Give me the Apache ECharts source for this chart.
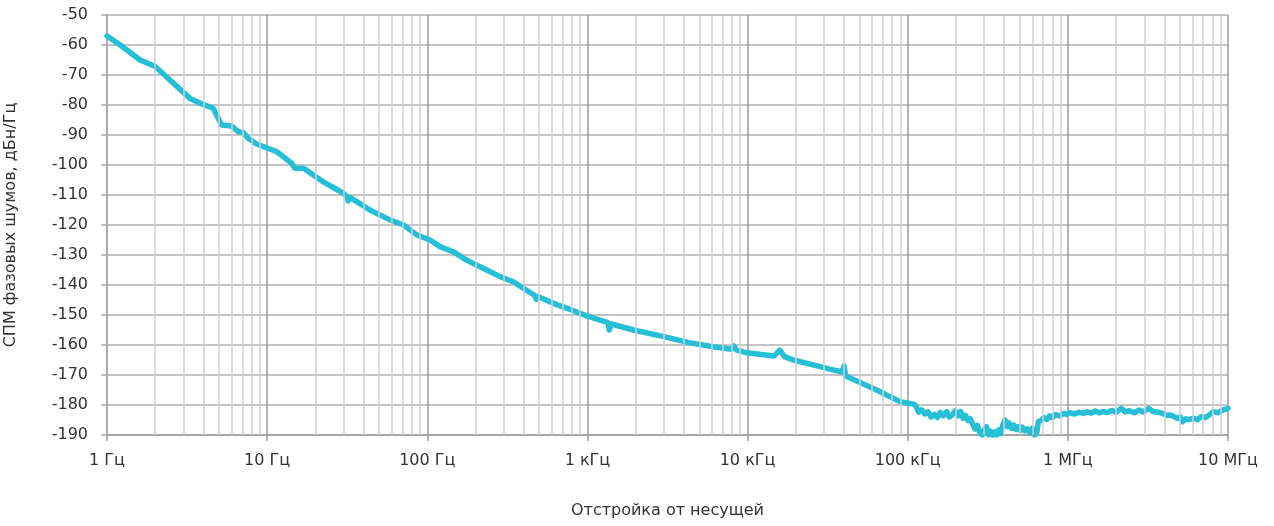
<!DOCTYPE html>
<html>
<head>
<meta charset="utf-8">
<script src="https://cdn.jsdelivr.net/npm/echarts@6/dist/echarts.min.js"></script>
<style>
html,body{margin:0;padding:0;background:#fff;}
#chart{width:1274px;height:526px;}
</style>
</head>
<body>
<div id="chart"></div>
<script>
// Offset frequencies (Hz) and phase-noise PSD (dBc/Hz)
const freqHz = [
  1, 1.21, 1.61, 2.0, 2.47, 3.3, 3.98, 4.6, 5.2, 6.0, 6.6, 7.1, 7.6, 8.6,
  10.1, 11.5, 12.6, 14.2, 14.9, 16.9, 19.4, 22.4, 25.9, 29.9, 31.5, 32, 32.8, 36.3,
  43.8, 58.4, 71, 86, 104, 120, 145, 176, 235, 285, 344, 398, 470, 480, 495, 613, 748,
  899, 991, 1200, 1340, 1370, 1410, 1450, 1940, 3000, 4300, 6100, 7900, 8200, 8500,
  9900, 14600, 15900, 17000, 19300, 26000, 34200, 39000, 40000, 41000, 52000, 67000, 77000, 90000,
  109000, 113000, 117000, 122000, 128000, 134000, 140000, 147000, 153000, 160000,
  167000, 175000, 182000, 190000, 198000, 206000, 214000, 222000, 230000, 238000,
  246000, 255000, 263000, 272000, 282000, 292000, 300000, 310000, 320000, 330000,
  340000, 350000, 360000, 370000, 380000, 392000, 405000, 418000, 430000, 445000,
  460000, 475000, 490000, 505000, 520000, 540000, 560000, 580000, 600000, 620000,
  640000, 655000, 680000, 710000, 740000, 770000, 800000, 840000, 890000, 940000,
  982000, 1.04e6, 1.1e6, 1.17e6, 1.25e6, 1.32e6, 1.4e6, 1.48e6, 1.57e6, 1.66e6,
  1.77e6, 1.88e6, 2.0e6, 2.16e6, 2.28e6, 2.42e6, 2.6e6, 2.78e6, 2.95e6, 3.2e6,
  3.4e6, 3.65e6, 3.9e6, 4.15e6, 4.4e6, 4.6e6, 4.85e6, 5.05e6, 5.2e6, 5.45e6,
  5.75e6, 6.1e6, 6.45e6, 6.8e6, 7.2e6, 7.6e6, 8.1e6, 8.6e6, 9.2e6, 1e7
];
const psdDb = [
  -57, -60, -65, -67.2, -71.7, -77.8, -79.8, -81.1, -86.7, -87, -88.9, -89.2, -91.1, -93,
  -94.4, -95.6, -97.2, -99.4, -101.1, -101.1, -103.3, -105.6, -107.5, -109.4, -110.6, -112, -110.8, -112.2,
  -115, -118.3, -120, -123.3, -125, -127.2, -128.9, -131.7, -135, -137.2, -138.9, -141.1, -143.5, -144.8, -143.9, -146.1, -147.8,
  -149.4, -150.3, -151.7, -152.5, -155, -153, -153.3, -155, -157.2, -159.2, -160.6, -161.4, -160.3, -161.6,
  -162.6, -163.7, -161.7, -163.9, -165, -166.7, -168.3, -169, -167, -170.3, -172.8, -175.5, -177.2, -178.9,
  -179.7, -180.5, -182.4, -181.6, -183.0, -182.3, -184.0, -183.1, -184.2, -182.5,
  -183.6, -182.2, -184.0, -183.3, -182.0, -183.6, -182.2, -184.4, -183.5, -185.2,
  -184.6, -186.5, -188.0, -186.8, -189.2, -190, -188.5, -187.2, -190, -188.8,
  -190, -189, -190, -188.3, -189.5, -186.8, -185, -187.2, -186, -187.8,
  -186.7, -188.2, -187.2, -188.5, -187.4, -188.6, -188, -189.2, -187.8, -190,
  -189, -185.5, -185.2, -184.2, -184.8, -183.6, -184.2, -183.2, -183.6, -182.8,
  -183.1, -182.6, -183.0, -182.4, -182.8, -182.3, -182.7, -182.0, -182.6, -182.2,
  -182.5, -181.8, -182.4, -181.1, -182.3, -181.9, -182.6, -181.7, -182.3, -181.1,
  -182.2, -182.4, -182.8, -183.4, -183.3, -183.9, -184.5, -184.0, -185.6, -184.6,
  -184.9, -184.4, -184.9, -183.9, -184.2, -183.4, -182.2, -182.6, -181.8, -181.1
];
const xTickLabels = ['1 Гц', '10 Гц', '100 Гц', '1 кГц', '10 кГц', '100 кГц', '1 МГц', '10 МГц'];
const yMin = -190, yMax = -50, yStep = 10;
const xTitle = 'Отстройка от несущей';
const yTitle = 'СПМ фазовых шумов, дБн/Гц';

// minor log grid lines at 2..9 x 10^k
const minorTicks = [];
for (let k = 0; k < 7; k++) {
  for (let m = 2; m <= 9; m++) minorTicks.push(m * Math.pow(10, k));
}

const chart = echarts.init(document.getElementById('chart'));
const font = 'DejaVu Sans';
chart.setOption({
  animation: false,
  grid: { left: 107, right: 46, top: 15, bottom: 91, containLabel: false, outerBoundsMode: 'none' },
  xAxis: {
    type: 'log', logBase: 10, min: 1, max: 1e7,
    name: xTitle, nameLocation: 'middle', nameGap: 68,
    nameTextStyle: { color: '#333', fontSize: 16, fontFamily: font },
    axisLine: { lineStyle: { color: '#9a9a9a', width: 1.5 } },
    axisTick: { show: true, length: 6, lineStyle: { color: '#9a9a9a', width: 1.5 } },
    axisLabel: {
      color: '#333', fontSize: 16, fontFamily: font, margin: 18,
      formatter: v => xTickLabels[Math.round(Math.log10(v))]
    },
    splitLine: { show: true, lineStyle: { color: '#9a9a9a', width: 1.5 } },
    minorTick: { show: false },
    minorSplitLine: { show: false }
  },
  yAxis: {
    type: 'value', min: yMin, max: yMax, interval: yStep,
    name: yTitle, nameLocation: 'middle', nameGap: 88, nameRotate: 90,
    nameTextStyle: { color: '#333', fontSize: 16, fontFamily: font },
    axisLine: { show: true, lineStyle: { color: '#ababab', width: 1.5 } },
    axisTick: { show: true, length: 6, lineStyle: { color: '#ababab', width: 1.5 } },
    axisLabel: { color: '#333', fontSize: 16, fontFamily: font, margin: 19 },
    splitLine: { show: true, lineStyle: { color: '#b0b0b0', width: 1.5 } }
  },
  series: [
    {
      type: 'line', data: [], z: 1, silent: true,
      markLine: {
        silent: true, symbol: 'none', label: { show: false }, animation: false,
        lineStyle: { color: '#cfcfcf', width: 1.5, type: 'solid' },
        emphasis: { disabled: true },
        data: minorTicks.map(v => ({ xAxis: v }))
      }
    },
    {
      type: 'line', z: 3,
      data: freqHz.map((f, i) => [f, psdDb[i]]),
      showSymbol: false, symbol: 'none', smooth: false,
      lineStyle: { color: '#25BFD8', width: 5.5, join: 'round', cap: 'round' }
    }
  ]
});
</script>
</body>
</html>
